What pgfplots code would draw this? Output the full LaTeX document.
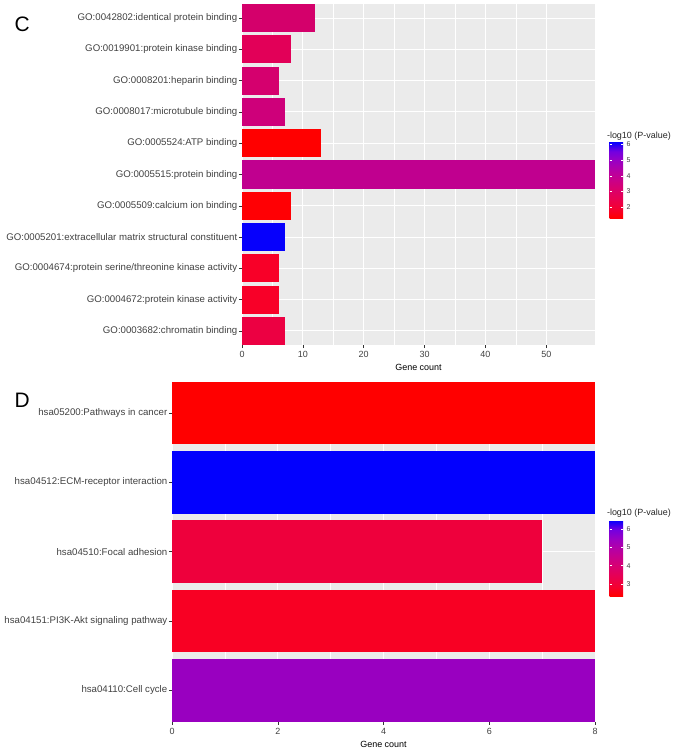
\documentclass[border=0pt]{standalone}
\usepackage{pgfplots}
\pgfplotsset{compat=1.18}
\usepackage{fontspec}
\setmainfont{Liberation Sans}
\definecolor{panelbg}{RGB}{235,235,235}
% top panel bar colours
\definecolor{t01}{RGB}{212,0,107}
\definecolor{t02}{RGB}{226,0,88}
\definecolor{t03}{RGB}{213,0,110}
\definecolor{t04}{RGB}{206,0,122}
\definecolor{t05}{RGB}{255,0,0}
\definecolor{t06}{RGB}{192,0,143}
\definecolor{t07}{RGB}{255,0,4}
\definecolor{t08}{RGB}{6,0,252}
\definecolor{t09}{RGB}{248,0,40}
\definecolor{t10}{RGB}{248,0,40}
\definecolor{t11}{RGB}{236,0,66}
% bottom panel bar colours
\definecolor{b01}{RGB}{255,0,0}
\definecolor{b02}{RGB}{2,0,254}
\definecolor{b03}{RGB}{238,0,60}
\definecolor{b04}{RGB}{248,0,35}
\definecolor{b05}{RGB}{153,0,192}
\pgfplotsset{
  ggbase/.style={
    scale only axis,
    axis background/.style={fill=panelbg},
    axis line style={draw=none},
    tick align=outside,
    tick pos=left,
    major tick length=3bp,
    minor tick length=0pt,
    tick style={color=black!80, line width=0.5pt},
    grid=both,
    major grid style={white, line width=0.9pt},
    minor grid style={white, line width=0.45pt},
    minor x tick num=1,
    xticklabel style={font=\fontsize{9}{10}\selectfont, text=black!75},
    yticklabel style={font=\fontsize{9.7}{11}\selectfont, text=black!75, xshift=1.8bp},
    xlabel style={font=\fontsize{9}{10}\selectfont},
    xlabel={Gene count},
    /pgf/number format/assume math mode=true,
    colormap={rb}{rgb255=(255,0,0) rgb255=(244,0,49) rgb255=(232,0,80) rgb255=(218,0,108) rgb255=(201,0,137) rgb255=(181,0,165) rgb255=(154,0,195) rgb255=(115,0,224) rgb255=(0,0,255)},
    colorbar,
  },
  ggcbar/.style={
    at={(parent axis.north east)}, anchor=north west,
    scale only axis,
    width=13.7bp,
    axis line style={draw=none},
    tick style={white, line width=0.6pt},
    major tick length=2.7bp,
    tick align=inside,
    ytick pos=both,
    yticklabel pos=right,
    yticklabel style={font=\fontsize{7}{8}\selectfont, text=black!75, xshift=0bp},
    /pgf/number format/assume math mode=true,
  },
}
\begin{document}
\begin{tikzpicture}
\path[use as bounding box] (0,0) rectangle (677bp,-753bp);
\node[anchor=base west, font=\fontsize{21}{24}\selectfont] at (11bp,-31bp) {C};
\node[anchor=base west, font=\fontsize{21}{24}\selectfont] at (11bp,-407bp) {D};
% ---------- top panel ----------
\begin{axis}[ggbase,
  at={(242bp,-4bp)}, anchor=north west,
  width=353bp, height=341bp,
  xmin=0, xmax=58, ymin=-0.45, ymax=10.45,
  xtick={0,10,20,30,40,50},
  ytick={0,...,10},
  yticklabels={GO:0003682:chromatin binding,
    GO:0004672:protein kinase activity,
    GO:0004674:protein serine/threonine kinase activity,
    GO:0005201:extracellular matrix structural constituent,
    GO:0005509:calcium ion binding,
    GO:0005515:protein binding,
    GO:0005524:ATP binding,
    GO:0008017:microtubule binding,
    GO:0008201:heparin binding,
    GO:0019901:protein kinase binding,
    GO:0042802:identical protein binding},
  point meta min=1.32, point meta max=6.17,
  colorbar style={ggcbar, xshift=6bp, yshift=-137.7bp, height=76.3bp,
    ytick={2,3,4,5,6}},
]
\addplot[xbar, bar width=0.9, bar shift=0pt, fill=t11, draw=none] coordinates {(7,0)};
\addplot[xbar, bar width=0.9, bar shift=0pt, fill=t10, draw=none] coordinates {(6,1)};
\addplot[xbar, bar width=0.9, bar shift=0pt, fill=t09, draw=none] coordinates {(6,2)};
\addplot[xbar, bar width=0.9, bar shift=0pt, fill=t08, draw=none] coordinates {(7,3)};
\addplot[xbar, bar width=0.9, bar shift=0pt, fill=t07, draw=none] coordinates {(8,4)};
\addplot[xbar, bar width=0.9, bar shift=0pt, fill=t06, draw=none] coordinates {(58,5)};
\addplot[xbar, bar width=0.9, bar shift=0pt, fill=t05, draw=none] coordinates {(13,6)};
\addplot[xbar, bar width=0.9, bar shift=0pt, fill=t04, draw=none] coordinates {(7,7)};
\addplot[xbar, bar width=0.9, bar shift=0pt, fill=t03, draw=none] coordinates {(6,8)};
\addplot[xbar, bar width=0.9, bar shift=0pt, fill=t02, draw=none] coordinates {(8,9)};
\addplot[xbar, bar width=0.9, bar shift=0pt, fill=t01, draw=none] coordinates {(12,10)};
\end{axis}
\node[anchor=base west, font=\fontsize{9}{10}\selectfont, text=black!85] at (603.5bp,-138.5bp) {-log10 (P-value)};
% ---------- bottom panel ----------
\begin{axis}[ggbase,
  at={(172bp,-381.7bp)}, anchor=north west,
  width=423bp, height=340bp,
  xmin=0, xmax=8, ymin=-0.45, ymax=4.45,
  xtick={0,2,4,6,8},
  ytick={0,...,4},
  yticklabels={hsa04110:Cell cycle,
    hsa04151:PI3K-Akt signaling pathway,
    hsa04510:Focal adhesion,
    hsa04512:ECM-receptor interaction,
    hsa05200:Pathways in cancer},
  point meta min=2.34, point meta max=6.51,
  colorbar style={ggcbar, xshift=6bp, yshift=-138.3bp, height=76bp,
    ytick={3,4,5,6}},
]
\addplot[xbar, bar width=0.9, bar shift=0pt, fill=b05, draw=none] coordinates {(8,0)};
\addplot[xbar, bar width=0.9, bar shift=0pt, fill=b04, draw=none] coordinates {(8,1)};
\addplot[xbar, bar width=0.9, bar shift=0pt, fill=b03, draw=none] coordinates {(7,2)};
\addplot[xbar, bar width=0.9, bar shift=0pt, fill=b02, draw=none] coordinates {(8,3)};
\addplot[xbar, bar width=0.9, bar shift=0pt, fill=b01, draw=none] coordinates {(8,4)};
\end{axis}
\node[anchor=base west, font=\fontsize{9}{10}\selectfont, text=black!85] at (603.5bp,-515.5bp) {-log10 (P-value)};
\end{tikzpicture}
\end{document}
